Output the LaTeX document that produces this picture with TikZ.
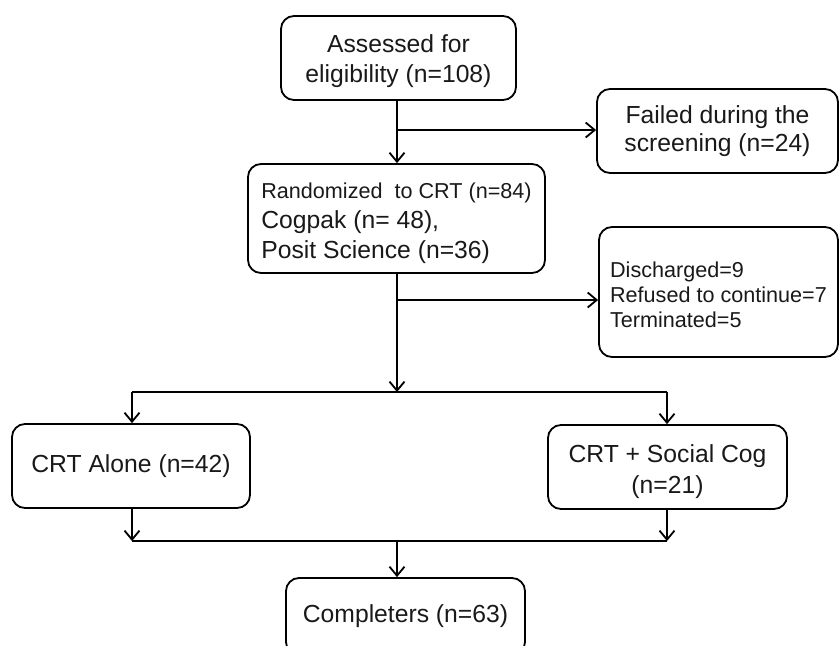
\documentclass[tikz,border=0pt]{standalone}
\usepackage{fontspec}
\setmainfont{Liberation Sans}
\usetikzlibrary{arrows.meta}
\newcommand{\bigtxt}{\fontsize{24.7}{30}\selectfont}
\newcommand{\smalltxt}{\fontsize{21.6}{25}\selectfont}
\begin{document}
\begin{tikzpicture}[x=1pt,y=-1pt,
  box/.style={draw=black, line width=1.8pt, rounded corners=13pt, inner sep=0pt, text=black!90, font=\bigtxt},
  arr/.style={line width=1.8pt, -{Straight Barb[length=9pt,width=15pt,line width=1.8pt]}},
  ln/.style={line width=1.8pt}]
\useasboundingbox (0,0) rectangle (839,646);
\node[box, minimum width=235pt, minimum height=84pt, align=center] (b1) at (398.5,58) {\rule{0pt}{24pt}Assessed for\\ eligibility (n=108)};
\node[box, minimum width=241pt, minimum height=84pt, align=center] (b2) at (717.5,131) {Failed during the\\[-1.5pt] screening (n=24)};
\node[box, minimum width=297pt, minimum height=109pt, align=left] (b3) at (396.5,218.5) {{\smalltxt\rule{0pt}{26pt}Randomized\ \ to CRT (n=84)}\\ Cogpak (n= 48),\\ Posit Science (n=36)};
\node[box, minimum width=239pt, minimum height=130pt, align=left, font=\smalltxt] (b4) at (718.5,292) {\rule{0pt}{22pt}Discharged=9\\ Refused to continue=7\\ Terminated=5};
\node[box, minimum width=238pt, minimum height=84pt, align=center] (b5) at (131,466) {CRT Alone (n=42)};
\node[box, minimum width=239pt, minimum height=84pt, align=center] (b6) at (667.5,467) {\rule{0pt}{27pt}CRT + Social Cog\\[1pt] (n=21)};
\node[box, minimum width=239pt, minimum height=77pt, align=center] (b7) at (405.5,616.5) {Completers (n=63)};
\coordinate (s1) at (397,130);
\coordinate (s2) at (397,300);
\coordinate (m1) at (397,392);
\coordinate (l1) at (132,392);
\coordinate (r1) at (667,392);
\coordinate (l2) at (132,541);
\coordinate (r2) at (667,541);
\coordinate (m2) at (397,541);
\draw[arr] (b1.south -| s1) -- (b3.north -| s1);
\draw[arr] (s1) -- (s1 -| b2.west);
\draw[arr] (s2) -- (s2 -| b4.west);
\draw[arr] (b3.south -| m1) -- (m1);
\draw[ln] (l1) -- (r1);
\draw[arr] (l1) -- (l1 |- b5.north);
\draw[arr] (r1) -- (r1 |- b6.north);
\draw[arr] (b5.south -| l2) -- (l2);
\draw[arr] (b6.south -| r2) -- (r2);
\draw[ln] (l2) -- (r2);
\draw[arr] (m2) -- (m2 |- b7.north);
\end{tikzpicture}
\end{document}
